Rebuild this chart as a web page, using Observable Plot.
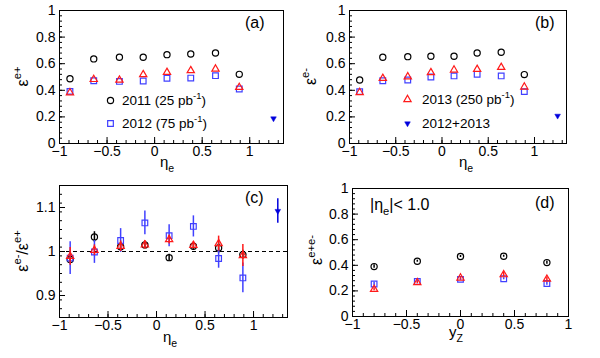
<!DOCTYPE html>
<html><head><meta charset="utf-8">
<script src="https://cdn.jsdelivr.net/npm/d3@7"></script>
<script src="https://cdn.jsdelivr.net/npm/@observablehq/plot@0.6"></script>
<style>
body{margin:0;background:#fff;}
#wrap{position:relative;width:600px;height:358px;overflow:hidden;}
#wrap svg{position:absolute;}
</style></head><body><div id="wrap"></div>
<script>
// ---------- data ----------
const etaBins = [-0.89, -0.64, -0.37, -0.12, 0.13, 0.38, 0.64, 0.89];
const combEta = [1.25];

// (a) epsilon e+
const a2011 = [0.487, 0.636, 0.648, 0.648, 0.668, 0.673, 0.681, 0.520];
const a2012 = [0.392, 0.472, 0.467, 0.470, 0.490, 0.492, 0.510, 0.410];
const a2013 = [0.382, 0.482, 0.477, 0.518, 0.535, 0.548, 0.560, 0.422];
const aComb = [0.188];

// (b) epsilon e-
const b2011 = [0.477, 0.648, 0.653, 0.656, 0.656, 0.681, 0.686, 0.518];
const b2012 = [0.390, 0.472, 0.477, 0.500, 0.508, 0.520, 0.508, 0.390];
const b2013 = [0.384, 0.490, 0.502, 0.533, 0.553, 0.558, 0.573, 0.425];
const bComb = [0.208];

// (c) ratio e-/e+
const c2011 = [0.982, 1.033, 1.011, 1.015, 0.986, 1.012, 1.008, 0.993];
const c2011err = [0.010, 0.012, 0.010, 0.008, 0.008, 0.008, 0.012, 0.010];
const c2012 = [0.985, 0.999, 1.025, 1.065, 1.036, 1.057, 0.984, 0.940];
const c2012err = [0.037, 0.026, 0.027, 0.027, 0.025, 0.024, 0.022, 0.034];
const c2013 = [0.989, 1.003, 1.012, 1.015, 1.027, 1.014, 1.018, 0.991];
const c2013err = [0.020, 0.012, 0.012, 0.010, 0.010, 0.008, 0.017, 0.025];
const cComb = [1.092];
const cCombErr = [0.028];

// (d) epsilon e+e- vs yZ
const yZ = [-0.8, -0.4, 0, 0.4, 0.8];
const d2011 = [0.390, 0.432, 0.469, 0.471, 0.421];
const d2011err = [0.014, 0.008, 0.008, 0.008, 0.012];
const d2012 = [0.254, 0.274, 0.290, 0.295, 0.258];
const d2012err = [0.014, 0.008, 0.008, 0.008, 0.014];
const d2013 = [0.212, 0.265, 0.301, 0.327, 0.292];
const d2013err = [0.010, 0.010, 0.010, 0.018, 0.016];

// ticks
const xMajorEta = [-1, -0.5, 0, 0.5, 1];
const xMinorEta = d3.range(-10, 14).map(i => i / 10);
const yMajorEff = [0, 0.2, 0.4, 0.6, 0.8, 1];
const yMinorEff = d3.range(0, 26).map(i => i * 0.04);
const yMajorRatio = [0.9, 1, 1.1];
const yMinorRatio = d3.range(0, 16).map(i => 0.85 + i * 0.02);
const xMinorY = d3.range(-10, 11).map(i => i / 10);

const legendA = ["2011 (25 pb", "2012 (75 pb"];
const legendB = ["2013 (250 pb", "2012+2013"];

// ---------- style ----------
const FONT = '"Liberation Sans", Arial, Helvetica, sans-serif';
const BLACK = "#000000", BLUE = "#4040ff", RED = "#ff1a1a", DBLUE = "#0000dd";
const fmt = d3.format("~g");
const idx = n => d3.range(n);

function rich(svg, x, y, parts, {size = 16, anchor = "start", rotate = 0} = {}) {
  const t = d3.select(svg).append("text")
    .attr("transform", `translate(${x},${y})` + (rotate ? ` rotate(${rotate})` : ""))
    .attr("text-anchor", anchor).attr("font-size", size)
    .attr("font-family", FONT).attr("fill", "black");
  let shift = 0;
  for (const p of parts) {
    const [s, kind] = typeof p === "string" ? [p, null] : p;
    const target = kind === "sup" ? -0.42 * size : kind === "sub" ? 0.3 * size : 0;
    t.append("tspan").attr("dy", target - shift)
      .attr("font-size", kind ? size * 0.7 : size).text(s);
    shift = target;
  }
}

function series(xs, ys, opts, errs) {
  const I = idx(ys.length);
  const m = [];
  if (errs) m.push(Plot.ruleX(I, {x: i => xs[i], y1: i => ys[i] - errs[i], y2: i => ys[i] + errs[i],
    stroke: opts.stroke || opts.fill, strokeWidth: 1.5}));
  m.push(Plot.dot(I, {x: i => xs[i], y: i => ys[i], ...opts}));
  return m;
}
const CIRC = {symbol: "circle", r: 3.1, stroke: BLACK, fill: "none", strokeWidth: 1.2};
const SQ = {symbol: "square", r: 3.2, stroke: BLUE, fill: "none", strokeWidth: 1.2};
const TRI = {symbol: "triangle", r: 2.7, stroke: RED, fill: "none", strokeWidth: 1.2};
const DTRI = {symbol: "triangle", r: 2.1, fill: DBLUE, stroke: DBLUE, strokeWidth: 0.5, rotate: 180};

function panel(cfg) {
  const W = 300, H = 179;
  const ph = H - cfg.mt - cfg.mb, pw = W - cfg.ml - cfg.mr;
  const svg = Plot.plot({
    width: W, height: H,
    marginLeft: cfg.ml, marginRight: cfg.mr, marginTop: cfg.mt, marginBottom: cfg.mb,
    style: {fontFamily: FONT, fontSize: "14px", background: "white", overflow: "visible"},
    x: {domain: cfg.xDomain, axis: null},
    y: {domain: cfg.yDomain, axis: null},
    marks: [
      ...cfg.pre || [],
      Plot.tickX(cfg.xMinor, {x: d => d, insetTop: ph - 3, stroke: BLACK}),
      Plot.tickX(cfg.xMajor, {x: d => d, insetTop: ph - 6, stroke: BLACK}),
      Plot.tickY(cfg.yMinor, {y: d => d, insetRight: pw - 3, stroke: BLACK}),
      Plot.tickY(cfg.yMajor, {y: d => d, insetRight: pw - 6, stroke: BLACK}),
      Plot.axisX(cfg.xMajor, {tickSize: 0, tickPadding: 3, tickFormat: fmt, label: null, fontSize: 14}),
      Plot.axisY(cfg.yMajor, {tickSize: 0, tickPadding: 4, tickFormat: fmt, label: null, fontSize: 14}),
      ...cfg.marks,
      Plot.frame({stroke: BLACK})
    ]
  });
  svg.style.left = cfg.left + "px";
  svg.style.top = cfg.top + "px";
  document.getElementById("wrap").appendChild(svg);
  return svg;
}

// ---------- (a) ----------
const sa = panel({
  left: 0, top: 0, ml: 59, mr: 17, mt: 10, mb: 36,
  xDomain: [-1, 1.355], yDomain: [0, 1],
  xMajor: xMajorEta, xMinor: xMinorEta, yMajor: yMajorEff, yMinor: yMinorEff,
  marks: [
    ...series(etaBins, a2011, CIRC),
    ...series(etaBins, a2012, SQ),
    ...series(etaBins, a2013, TRI),
    ...series(combEta, aComb, DTRI),
    Plot.dot([0], {frameAnchor: "top-left", dx: 51, dy: 90, ...CIRC}),
    Plot.dot([0], {frameAnchor: "top-left", dx: 51, dy: 113, ...SQ})
  ]
});
rich(sa, 28, 76.5, ["ε", ["e+", "sup"]], {size: 16, anchor: "middle", rotate: -90});
rich(sa, 167, 167, ["η", ["e", "sub"]], {size: 15, anchor: "middle"});
rich(sa, 245, 28, ["(a)"], {size: 16});
rich(sa, 122, 105, [legendA[0], ["-1", "sup"], ")"], {size: 13.5});
rich(sa, 122, 128, [legendA[1], ["-1", "sup"], ")"], {size: 13.5});

// ---------- (b) ----------
const sb = panel({
  left: 300, top: 0, ml: 49, mr: 34, mt: 10, mb: 36,
  xDomain: [-1, 1.346], yDomain: [0, 1],
  xMajor: xMajorEta, xMinor: xMinorEta, yMajor: yMajorEff, yMinor: yMinorEff,
  marks: [
    ...series(etaBins, b2011, CIRC),
    ...series(etaBins, b2012, SQ),
    ...series(etaBins, b2013, TRI),
    ...series(combEta, bComb, DTRI),
    Plot.dot([0], {frameAnchor: "top-left", dx: 58, dy: 89, ...TRI}),
    Plot.dot([0], {frameAnchor: "top-left", dx: 58, dy: 113, ...DTRI})
  ]
});
rich(sb, 16, 76.5, ["ε", ["e-", "sup"]], {size: 16, anchor: "middle", rotate: -90});
rich(sb, 166, 167, ["η", ["e", "sub"]], {size: 15, anchor: "middle"});
rich(sb, 235, 28, ["(b)"], {size: 16});
rich(sb, 122, 104, [legendB[0], ["-1", "sup"], ")"], {size: 13.5});
rich(sb, 122, 128, [legendB[1]], {size: 13.5});

// ---------- (c) ----------
const sc = panel({
  left: 0, top: 179, ml: 59, mr: 13, mt: 6, mb: 41,
  xDomain: [-1, 1.35], yDomain: [0.85, 1.15],
  xMajor: xMajorEta, xMinor: xMinorEta, yMajor: yMajorRatio, yMinor: yMinorRatio,
  pre: [Plot.ruleY([1], {stroke: BLACK, strokeDasharray: "4,3"})],
  marks: [
    ...series(etaBins, c2011, CIRC, c2011err),
    ...series(etaBins, c2012, SQ, c2012err),
    ...series(etaBins, c2013, TRI, c2013err),
    ...series(combEta, cComb, DTRI, cCombErr)
  ]
});
rich(sc, 28, 72, ["ε", ["e-", "sup"], "/ε", ["e+", "sup"]], {size: 16, anchor: "middle", rotate: -90});
rich(sc, 170, 163, ["η", ["e", "sub"]], {size: 15, anchor: "middle"});
rich(sc, 245, 24, ["(c)"], {size: 16});

// ---------- (d) ----------
const sd = panel({
  left: 300, top: 179, ml: 52, mr: 32, mt: 9, mb: 42,
  xDomain: [-1, 1], yDomain: [0, 1],
  xMajor: xMajorEta, xMinor: xMinorY, yMajor: yMajorEff, yMinor: yMinorEff,
  marks: [
    ...series(yZ, d2011, CIRC, d2011err),
    ...series(yZ, d2012, SQ, d2012err),
    ...series(yZ, d2013, TRI, d2013err)
  ]
});
rich(sd, 22, 71, ["ε", ["e+e-", "sup"]], {size: 16, anchor: "middle", rotate: -90});
rich(sd, 156, 158, ["y", ["Z", "sub"]], {size: 15, anchor: "middle"});
rich(sd, 235, 29, ["(d)"], {size: 16});
rich(sd, 70, 31, ["|η", ["e", "sub"], "|< 1.0"], {size: 16});
</script></body></html>
